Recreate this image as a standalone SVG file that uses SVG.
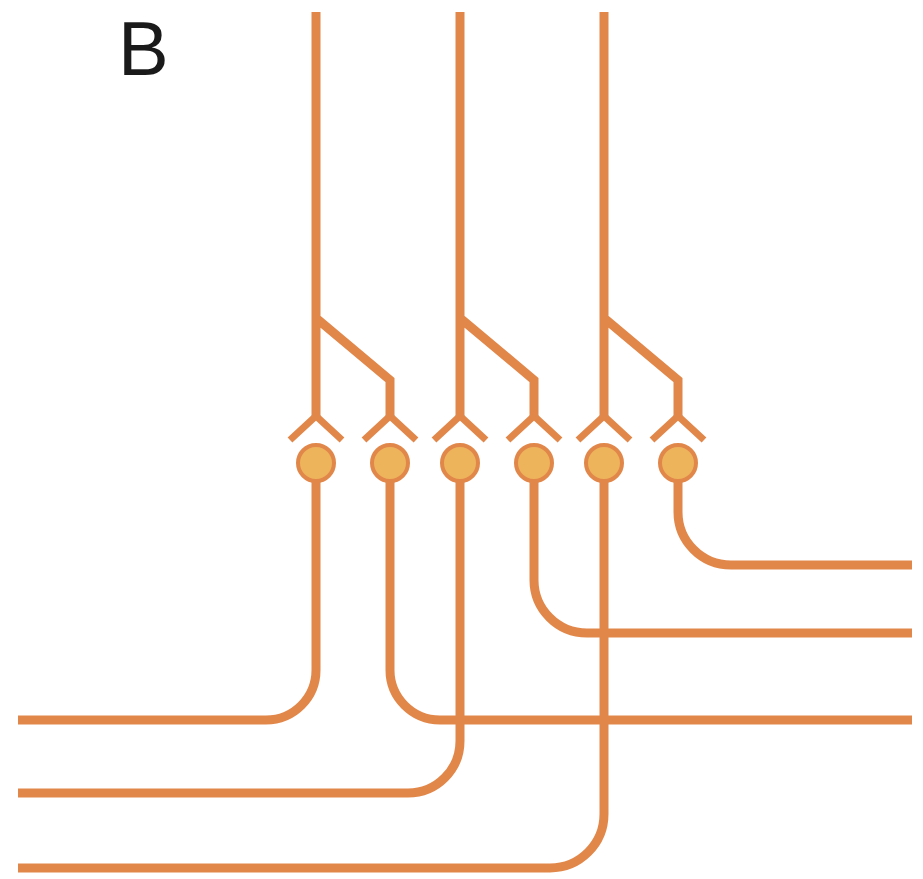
<svg xmlns="http://www.w3.org/2000/svg" width="923" height="879" viewBox="0 0 923 879">
  <style>
    .axon { fill: none; stroke: #E2874A; stroke-width: 9; stroke-linejoin: miter; }
    .fork { fill: none; stroke: #E2874A; stroke-width: 7; stroke-linecap: butt; stroke-linejoin: miter; }
    .soma { fill: #EDB45C; stroke: #E2874A; stroke-width: 4; }
    .label { font-family: "Liberation Sans", Arial, sans-serif; font-size: 76px; fill: #1a1a1a; }
  </style>
  <rect width="923" height="879" fill="#ffffff"/>
  <text class="label" x="118" y="75">B</text>

  <!-- inputs: main fibres with collateral branches -->
  <g id="input-1">
    <path class="axon" d="M316,12 V418 M316,318 L390,380 V418"/>
  </g>
  <g id="input-2">
    <path class="axon" d="M460,12 V418 M460,318 L534,380 V418"/>
  </g>
  <g id="input-3">
    <path class="axon" d="M604,12 V418 M604,318 L678,380 V418"/>
  </g>

  <!-- synaptic terminals and cells -->
  <g id="cell-1"><path class="fork" d="M290,440 L316,416 L342,440"/><circle class="soma" cx="316" cy="463" r="18"/></g>
  <g id="cell-2"><path class="fork" d="M364,440 L390,416 L416,440"/><circle class="soma" cx="390" cy="463" r="18"/></g>
  <g id="cell-3"><path class="fork" d="M434,440 L460,416 L486,440"/><circle class="soma" cx="460" cy="463" r="18"/></g>
  <g id="cell-4"><path class="fork" d="M508,440 L534,416 L560,440"/><circle class="soma" cx="534" cy="463" r="18"/></g>
  <g id="cell-5"><path class="fork" d="M578,440 L604,416 L630,440"/><circle class="soma" cx="604" cy="463" r="18"/></g>
  <g id="cell-6"><path class="fork" d="M652,440 L678,416 L704,440"/><circle class="soma" cx="678" cy="463" r="18"/></g>

  <!-- outputs -->
  <g id="connectors">
    <path class="axon" d="M316,481 V670 A50,50 0 0 1 266,720 H18"/>
    <path class="axon" d="M390,481 V670 A50,50 0 0 0 440,720 H912"/>
    <path class="axon" d="M460,481 V741 A52,52 0 0 1 408,793 H18"/>
    <path class="axon" d="M534,481 V580 A53,53 0 0 0 587,633 H912"/>
    <path class="axon" d="M604,481 V814 A54,54 0 0 1 550,868 H18"/>
    <path class="axon" d="M678,481 V512 A53,53 0 0 0 731,565 H912"/>
  </g>
</svg>
